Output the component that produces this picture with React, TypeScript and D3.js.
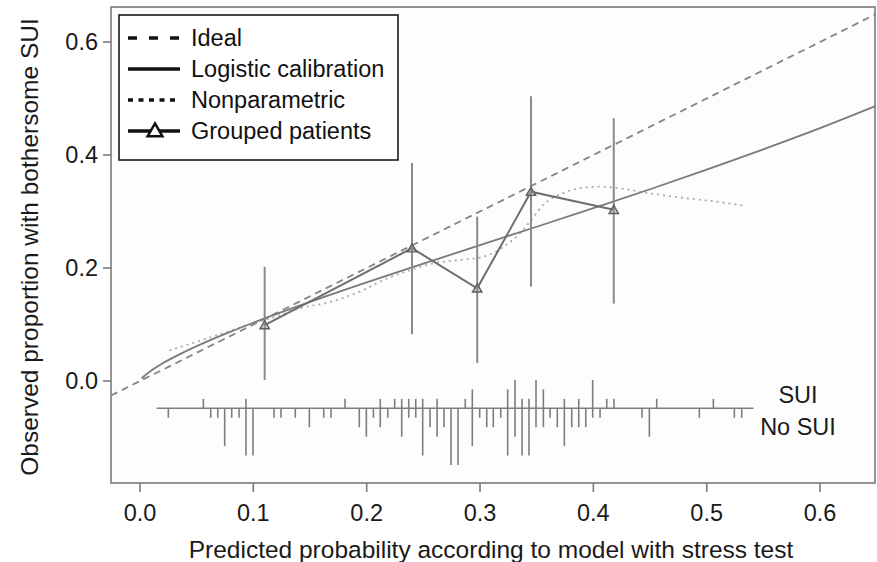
import React from "react";
import * as d3 from "d3";

// ---- data ----
const xTicks = [0.0, 0.1, 0.2, 0.3, 0.4, 0.5, 0.6];
const yTicks = [0.0, 0.2, 0.4, 0.6];

const idealX = [-0.0256, 0.6485];

const logisticX = [0.0015, 0.003, 0.01, 0.02, 0.04, 0.06, 0.08, 0.1, 0.15, 0.2, 0.25, 0.3, 0.35, 0.4, 0.45, 0.5, 0.55, 0.6, 0.65];
const logisticY = [0.0048, 0.0076, 0.0187, 0.0313, 0.0522, 0.0705, 0.0873, 0.1031, 0.1399, 0.1744, 0.2077, 0.2405, 0.273, 0.306, 0.3394, 0.374, 0.41, 0.4474, 0.4873];

const nonparX = [0.026, 0.04, 0.06, 0.08, 0.1, 0.12, 0.138, 0.168, 0.197, 0.215, 0.235, 0.256, 0.285, 0.303, 0.321, 0.335, 0.344, 0.356, 0.374, 0.391, 0.406, 0.427, 0.447, 0.48, 0.51, 0.534];
const nonparY = [0.054, 0.063, 0.076, 0.089, 0.102, 0.114, 0.127, 0.14, 0.161, 0.179, 0.194, 0.207, 0.215, 0.22, 0.238, 0.261, 0.282, 0.312, 0.333, 0.342, 0.344, 0.34, 0.333, 0.324, 0.317, 0.31];

const groupX = [0.11, 0.24, 0.2975, 0.345, 0.418];
const groupY = [0.099, 0.235, 0.164, 0.335, 0.303];
const groupLo = [0.002, 0.083, 0.032, 0.167, 0.137];
const groupHi = [0.202, 0.386, 0.291, 0.504, 0.465];

const spikeX = [0.025, 0.0559, 0.0624, 0.0686, 0.0747, 0.0809, 0.0874, 0.0935, 0.0997, 0.1182, 0.1244, 0.137, 0.1494, 0.1621, 0.1685, 0.1809, 0.1935, 0.1997, 0.2059, 0.212, 0.2186, 0.2247, 0.2309, 0.2371, 0.2433, 0.2494, 0.2559, 0.2621, 0.2682, 0.2744, 0.2806, 0.287, 0.2932, 0.2997, 0.3059, 0.3117, 0.3183, 0.3244, 0.3309, 0.3371, 0.3432, 0.3494, 0.3559, 0.3618, 0.3682, 0.3744, 0.3809, 0.3871, 0.3933, 0.3994, 0.4059, 0.4118, 0.4182, 0.4429, 0.4494, 0.4559, 0.4935, 0.5059, 0.5244, 0.5309];
const spikeSUI = [0, 1, 0, 0, 0, 0, 0, 1, 0, 0, 0, 0, 0, 0, 0, 1, 0, 0, 0, 1, 0, 1, 1, 1, 1, 1, 0, 1, 0, 0, 0, 1, 2, 0, 0, 0, 0, 2, 3, 1, 1, 3, 2, 0, 0, 1, 0, 1, 0, 3, 0, 1, 1, 0, 0, 1, 0, 1, 0, 0];
const spikeNoSUI = [1, 0, 1, 1, 4, 1, 1, 5, 5, 1, 1, 1, 2, 1, 1, 0, 2, 3, 1, 2, 1, 0, 3, 1, 1, 5, 2, 3, 2, 6, 6, 0, 4, 1, 2, 2, 1, 5, 3, 5, 5, 2, 2, 1, 2, 4, 2, 2, 2, 1, 1, 0, 0, 1, 3, 0, 1, 0, 1, 1];
const spikeRange = [0.0147, 0.5412];
const spikeBase = -0.0483;

const legendLabels = ["Ideal", "Logistic calibration", "Nonparametric", "Grouped patients"];
const xTitle = "Predicted probability according to model with stress test";
const yTitle = "Observed proportion with bothersome SUI";

const W = 877;
const H = 562;
const L = 111, R = 875, T = 7, B = 483;
const FONT = "'Liberation Sans', Arial, Helvetica, sans-serif";

export default function App() {
  const x = d3.scaleLinear().domain([-0.0256, 0.6485]).range([L, R]);
  const y = d3.scaleLinear().domain([-0.1805, 0.6619]).range([B, T]);
  const countPx = d3.scaleLinear().domain([0, 1]).range([0, 9.45]);

  const line = d3.line<[number, number]>().x((d) => x(d[0])).y((d) => y(d[1]));
  const smooth = d3
    .line<[number, number]>()
    .x((d) => x(d[0]))
    .y((d) => y(d[1]))
    .curve(d3.curveMonotoneX);

  const idealPts: [number, number][] = idealX.map((v) => [v, v]);
  const logPts: [number, number][] = logisticX.map((v, i) => [v, logisticY[i]]);
  const npPts: [number, number][] = nonparX.map((v, i) => [v, nonparY[i]]);
  const grpPts: [number, number][] = groupX.map((v, i) => [v, groupY[i]]);
  const tri = d3.symbol(d3.symbolTriangle, 38)() as string;
  const triLegend = d3.symbol(d3.symbolTriangle, 95)() as string;

  const by = y(spikeBase);
  const legendY = [38, 69, 100, 131];

  return (
    <svg
      width={W}
      height={H}
      style={{ position: "absolute", left: 0, top: 0, background: "#fff" }}
      fontFamily={FONT}
    >
      <defs>
        <clipPath id="plotclip">
          <rect x={L} y={T} width={R - L} height={B - T} />
        </clipPath>
      </defs>
      <rect x={0} y={0} width={W} height={H} fill="#fff" />

      {/* frame */}
      <rect x={L} y={T} width={R - L} height={B - T} fill="#fdfdfd" stroke="#7a7a7a" strokeWidth={1.6} />

      {/* axes ticks */}
      {xTicks.map((t) => (
        <g key={"xt" + t}>
          <line x1={x(t)} x2={x(t)} y1={B} y2={B + 9} stroke="#7a7a7a" strokeWidth={1.6} />
          <text x={x(t)} y={521} textAnchor="middle" fontSize={23.5} fill="#1a1a1a">
            {t.toFixed(1)}
          </text>
        </g>
      ))}
      {yTicks.map((t) => (
        <g key={"yt" + t}>
          <line x1={L - 8} x2={L} y1={y(t)} y2={y(t)} stroke="#7a7a7a" strokeWidth={1.6} />
          <text x={98} y={y(t) + 8} textAnchor="end" fontSize={23.5} fill="#1a1a1a">
            {t.toFixed(1)}
          </text>
        </g>
      ))}
      <text x={491} y={558} textAnchor="middle" fontSize={24.5} fill="#1a1a1a">
        {xTitle}
      </text>
      <text
        transform={`translate(38,${(T + B) / 2 + 2}) rotate(-90)`}
        textAnchor="middle"
        fontSize={24.5}
        fill="#1a1a1a"
      >
        {yTitle}
      </text>

      <g clipPath="url(#plotclip)">
        {/* spike histogram */}
        <line x1={x(spikeRange[0])} x2={x(spikeRange[1])} y1={by} y2={by} stroke="#7d7d7d" strokeWidth={1.6} />
        {spikeX.map((v, i) => (
          <g key={"sp" + i}>
            {spikeSUI[i] > 0 && (
              <line x1={x(v)} x2={x(v)} y1={by} y2={by - countPx(spikeSUI[i])} stroke="#7d7d7d" strokeWidth={1.6} />
            )}
            {spikeNoSUI[i] > 0 && (
              <line x1={x(v)} x2={x(v)} y1={by} y2={by + countPx(spikeNoSUI[i])} stroke="#7d7d7d" strokeWidth={1.6} />
            )}
          </g>
        ))}

        {/* ideal */}
        <path d={line(idealPts) || ""} fill="none" stroke="#858585" strokeWidth={1.8} strokeDasharray="7,5" />
        {/* nonparametric */}
        <path d={smooth(npPts) || ""} fill="none" stroke="#aaaaaa" strokeWidth={1.8} strokeDasharray="2,4" />
        {/* logistic */}
        <path d={smooth(logPts) || ""} fill="none" stroke="#7a7a7a" strokeWidth={1.8} />
        {/* CIs */}
        {groupX.map((v, i) => (
          <line
            key={"ci" + i}
            x1={x(v)}
            x2={x(v)}
            y1={y(groupLo[i])}
            y2={y(groupHi[i])}
            stroke="#8a8a8a"
            strokeWidth={2}
          />
        ))}
        {/* grouped line */}
        <path d={line(grpPts) || ""} fill="none" stroke="#6e6e6e" strokeWidth={2} />
        {grpPts.map((p, i) => (
          <path
            key={"tr" + i}
            d={tri}
            transform={`translate(${x(p[0])},${y(p[1]) + 1})`}
            fill="#9a9a9a"
            fillOpacity={0.5}
            stroke="#5e5e5e"
            strokeWidth={1.4}
          />
        ))}
      </g>

      <text x={798} y={403} textAnchor="middle" fontSize={23.5} fill="#1a1a1a">
        SUI
      </text>
      <text x={798} y={435} textAnchor="middle" fontSize={23.5} fill="#1a1a1a">
        No SUI
      </text>

      {/* legend */}
      <rect x={119} y={15} width={279} height={145} fill="#fff" stroke="#1a1a1a" strokeWidth={1.6} />
      <line x1={128} x2={180} y1={legendY[0]} y2={legendY[0]} stroke="#111" strokeWidth={3.5} strokeDasharray="9,12" />
      <line x1={128} x2={180} y1={legendY[1]} y2={legendY[1]} stroke="#111" strokeWidth={3.5} />
      <line x1={128} x2={180} y1={legendY[2]} y2={legendY[2]} stroke="#111" strokeWidth={3.5} strokeDasharray="5,5.5" />
      <line x1={128} x2={180} y1={legendY[3]} y2={legendY[3]} stroke="#111" strokeWidth={3.5} />
      <path d={triLegend} transform={`translate(155,${legendY[3] + 1})`} fill="#fff" stroke="#111" strokeWidth={2.5} />
      {legendLabels.map((lab, i) => (
        <text key={lab} x={191} y={legendY[i] + 8} fontSize={23.5} fill="#111">
          {lab}
        </text>
      ))}
    </svg>
  );
}
